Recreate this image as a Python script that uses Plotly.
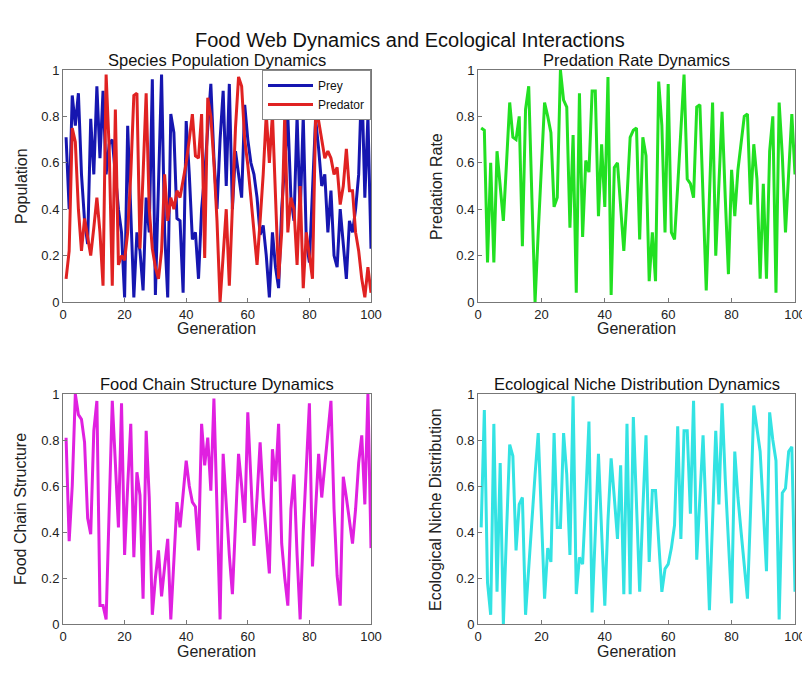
import plotly.graph_objects as go

generation = list(range(1, 101))

prey = [0.71, 0.40, 0.89, 0.76, 0.90, 0.55, 0.35, 0.25, 0.79, 0.55,
        0.93, 0.62, 0.91, 0.55, 0.68, 0.70, 0.55, 0.40, 0.30, 0.02,
        0.76, 0.40, 0.02, 0.30, 0.22, 0.05, 0.45, 0.30, 0.96, 0.03,
        0.55, 0.98, 0.30, 0.02, 0.81, 0.73, 0.36, 0.35, 0.04, 0.78,
        0.55, 0.27, 0.30, 0.10, 0.40, 0.55, 0.75, 0.94, 0.62, 0.40,
        0.70, 0.91, 0.50, 0.94, 0.40, 0.65, 0.55, 0.45, 0.85, 0.70,
        0.60, 0.55, 0.45, 0.29, 0.33, 0.20, 0.02, 0.30, 0.15, 0.06,
        0.40, 0.60, 0.80, 0.45, 0.35, 0.80, 0.37, 0.80, 0.26, 0.17,
        0.50, 0.79, 0.66, 0.50, 0.55, 0.30, 0.48, 0.20, 0.15, 0.40,
        0.25, 0.10, 0.35, 0.30, 0.40, 0.55, 0.97, 0.45, 0.80, 0.23]

predator = [0.10, 0.22, 0.75, 0.69, 0.40, 0.22, 0.36, 0.28, 0.20, 0.32,
            0.45, 0.30, 0.07, 0.98, 0.66, 0.07, 0.83, 0.16, 0.20, 0.18,
            0.30, 0.55, 0.89, 0.90, 0.23, 0.55, 0.90, 0.40, 0.23, 0.15,
            0.10, 0.22, 0.55, 0.35, 0.45, 0.40, 0.48, 0.45, 0.52, 0.60,
            0.70, 0.81, 0.63, 0.62, 0.81, 0.19, 0.88, 0.80, 0.60, 0.35,
            0.00, 0.20, 0.40, 0.07, 0.45, 0.75, 0.97, 0.93, 0.70, 0.59,
            0.45, 0.30, 0.16, 0.35, 0.55, 0.81, 0.60, 0.81, 0.45, 0.10,
            0.30, 0.81, 0.30, 0.45, 0.40, 0.16, 0.50, 0.06, 0.30, 0.20,
            0.10, 0.78, 0.78, 0.70, 0.62, 0.65, 0.62, 0.55, 0.58, 0.42,
            0.50, 0.66, 0.48, 0.48, 0.30, 0.22, 0.10, 0.02, 0.15, 0.04]

predation_rate = [0.75, 0.74, 0.17, 0.60, 0.17, 0.65, 0.50, 0.35, 0.60, 0.86,
                  0.71, 0.70, 0.80, 0.24, 0.83, 0.93, 0.45, 0.00, 0.30, 0.60,
                  0.86, 0.80, 0.73, 0.41, 0.45, 1.00, 0.87, 0.84, 0.32, 0.72,
                  0.04, 0.90, 0.28, 0.61, 0.56, 0.91, 0.91, 0.37, 0.68, 0.41,
                  0.97, 0.03, 0.58, 0.60, 0.40, 0.22, 0.45, 0.71, 0.74, 0.75,
                  0.27, 0.71, 0.63, 0.09, 0.30, 0.09, 0.95, 0.76, 0.30, 0.94,
                  0.30, 0.27, 0.50, 0.76, 0.98, 0.53, 0.51, 0.45, 0.84, 0.85,
                  0.45, 0.05, 0.45, 0.86, 0.20, 0.50, 0.82, 0.45, 0.12, 0.57,
                  0.37, 0.57, 0.70, 0.80, 0.81, 0.42, 0.68, 0.53, 0.10, 0.51,
                  0.10, 0.65, 0.80, 0.04, 0.86, 0.63, 0.30, 0.55, 0.81, 0.55]

food_chain = [0.81, 0.36, 0.60, 1.00, 0.91, 0.89, 0.79, 0.46, 0.39, 0.84,
              0.97, 0.08, 0.08, 0.02, 0.50, 0.97, 0.70, 0.42, 0.96, 0.30,
              0.60, 0.87, 0.29, 0.66, 0.56, 0.11, 0.84, 0.55, 0.04, 0.20,
              0.32, 0.12, 0.25, 0.37, 0.02, 0.30, 0.53, 0.42, 0.55, 0.71,
              0.60, 0.53, 0.51, 0.32, 0.87, 0.69, 0.81, 0.58, 0.98, 0.55,
              0.02, 0.74, 0.50, 0.30, 0.13, 0.45, 0.74, 0.60, 0.44, 0.92,
              0.60, 0.34, 0.55, 0.79, 0.55, 0.40, 0.22, 0.76, 0.62, 0.87,
              0.35, 0.20, 0.08, 0.50, 0.65, 0.30, 0.02, 0.40, 0.70, 0.96,
              0.25, 0.50, 0.74, 0.55, 0.70, 0.85, 0.97, 0.50, 0.21, 0.08,
              0.64, 0.55, 0.45, 0.35, 0.50, 0.70, 0.82, 0.52, 1.00, 0.33]

niche = [0.42, 0.93, 0.18, 0.04, 0.87, 0.14, 0.70, 0.00, 0.40, 0.78,
         0.73, 0.32, 0.52, 0.55, 0.04, 0.25, 0.45, 0.65, 0.83, 0.50,
         0.11, 0.33, 0.27, 0.83, 0.42, 0.42, 0.83, 0.65, 0.30, 0.99,
         0.13, 0.29, 0.26, 0.55, 0.88, 0.05, 0.40, 0.74, 0.40, 0.08,
         0.45, 0.72, 0.55, 0.37, 0.69, 0.13, 0.87, 0.13, 0.90, 0.50,
         0.14, 0.50, 0.82, 0.27, 0.58, 0.58, 0.35, 0.14, 0.24, 0.26,
         0.33, 0.43, 0.86, 0.37, 0.84, 0.84, 0.48, 0.97, 0.28, 0.55,
         0.82, 0.45, 0.06, 0.45, 0.84, 0.52, 0.96, 0.63, 0.35, 0.09,
         0.75, 0.55, 0.40, 0.25, 0.11, 0.50, 0.95, 0.85, 0.75, 0.50,
         0.23, 0.92, 0.80, 0.71, 0.02, 0.57, 0.59, 0.75, 0.77, 0.14]

main_title = "Food Web Dynamics and Ecological Interactions"
panel_titles = ["Species Population Dynamics", "Predation Rate Dynamics",
                "Food Chain Structure Dynamics", "Ecological Niche Distribution Dynamics"]
y_titles = ["Population", "Predation Rate", "Food Chain Structure", "Ecological Niche Distribution"]
x_title = "Generation"
x_ticks = [0, 20, 40, 60, 80, 100]
y_ticks = [0, 0.2, 0.4, 0.6, 0.8, 1]
y_ticklabels = ["0", "0.2", "0.4", "0.6", "0.8", "1"]

# page body has an 8px margin; work in screen pixels and convert
OFF = 8
W, H = 810 - OFF, 673 - OFF
FONT = "Arial, Liberation Sans, Helvetica, sans-serif"


def fx(px):
    return (px - OFF) / W


def fy(py):
    return 1 - (py - OFF) / H


# panel boxes in screen pixels (left, right, top, bottom)
boxes = [(63, 371, 70, 302), (478, 795, 70, 302),
         (63, 371, 394, 624), (478, 795, 394, 624)]
ytitle_x = [21, 436, 21, 436]
xtitle_y = [328, 328, 651, 651]

fig = go.Figure()

line_w = 3
fig.add_trace(go.Scatter(x=generation, y=prey, mode="lines", name="Prey",
                         line=dict(color="#1616b0", width=line_w), xaxis="x", yaxis="y"))
fig.add_trace(go.Scatter(x=generation, y=predator, mode="lines", name="Predator",
                         line=dict(color="#e02222", width=line_w), xaxis="x", yaxis="y"))
fig.add_trace(go.Scatter(x=generation, y=predation_rate, mode="lines", showlegend=False,
                         line=dict(color="#22e022", width=line_w), xaxis="x2", yaxis="y2"))
fig.add_trace(go.Scatter(x=generation, y=food_chain, mode="lines", showlegend=False,
                         line=dict(color="#e020e0", width=line_w), xaxis="x3", yaxis="y3"))
fig.add_trace(go.Scatter(x=generation, y=niche, mode="lines", showlegend=False,
                         line=dict(color="#33e3e3", width=line_w), xaxis="x4", yaxis="y4"))

layout = dict(
    width=W, height=H,
    margin=dict(l=0, r=0, t=0, b=0, pad=0),
    paper_bgcolor="white", plot_bgcolor="white",
    font=dict(family=FONT, size=13, color="#222"),
    showlegend=True,
    legend=dict(x=fx(371), y=fy(70), xanchor="right", yanchor="top",
                bgcolor="white", bordercolor="#888", borderwidth=1,
                font=dict(size=12, color="#111"), tracegroupgap=0,
                itemwidth=45),
)

annotations = [dict(text=main_title, x=fx(410), y=fy(40), xref="paper", yref="paper",
                    showarrow=False, font=dict(size=20, color="#111", family=FONT),
                    xanchor="center", yanchor="middle")]

for i, (l, r, t, b) in enumerate(boxes):
    sfx = "" if i == 0 else str(i + 1)
    axis_common = dict(showline=True, linecolor="#777", linewidth=1, mirror=True,
                       ticks="inside", ticklen=4, tickcolor="#777", showgrid=False,
                       zeroline=False, automargin=False, tickfont=dict(size=13, color="#222"))
    layout["xaxis" + sfx] = dict(domain=[fx(l), fx(r)], anchor="y" + sfx, range=[0, 100],
                                 tickvals=x_ticks, **axis_common)
    layout["yaxis" + sfx] = dict(domain=[fy(b), fy(t)], anchor="x" + sfx, range=[0, 1],
                                 tickvals=y_ticks, ticktext=y_ticklabels, **axis_common)
    annotations.append(dict(text=panel_titles[i], x=fx((l + r) / 2), y=fy(t - 10),
                            xref="paper", yref="paper", showarrow=False,
                            font=dict(size=16.5, color="#111", family=FONT),
                            xanchor="center", yanchor="middle"))
    annotations.append(dict(text=x_title, x=fx((l + r) / 2), y=fy(xtitle_y[i]),
                            xref="paper", yref="paper", showarrow=False,
                            font=dict(size=16, color="#222", family=FONT),
                            xanchor="center", yanchor="middle"))
    annotations.append(dict(text=y_titles[i], x=fx(ytitle_x[i]), y=fy((t + b) / 2),
                            xref="paper", yref="paper", showarrow=False, textangle=-90,
                            font=dict(size=16, color="#222", family=FONT),
                            xanchor="center", yanchor="middle"))

layout["annotations"] = annotations
fig.update_layout(**layout)
fig.write_html("out.html")
